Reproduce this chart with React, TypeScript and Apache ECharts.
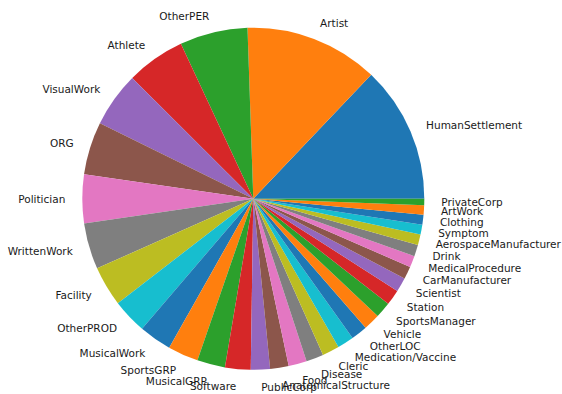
import React, { useEffect, useRef } from "react";
import * as echarts from "echarts";

const categories = [
  "HumanSettlement", "Artist", "OtherPER", "Athlete", "VisualWork", "ORG",
  "Politician", "WrittenWork", "Facility", "OtherPROD", "MusicalWork",
  "SportsGRP", "MusicalGRP", "Software", "PublicCorp", "AnatomicalStructure",
  "Food", "Disease", "Cleric", "Medication/Vaccine", "OtherLOC", "Vehicle",
  "SportsManager", "Station", "Scientist", "CarManufacturer",
  "MedicalProcedure", "Drink", "AerospaceManufacturer", "Symptom",
  "Clothing", "ArtWork", "PrivateCorp",
];

const values = [
  464, 455, 231, 200, 187, 180, 165, 157, 136, 118, 111, 104, 95, 87,
  65, 63, 62, 59, 58, 56, 56, 56, 54, 53, 48, 43, 39, 39, 36, 34, 33, 32, 22,
];

const palette = [
  "#1f77b4", "#ff7f0e", "#2ca02c", "#d62728", "#9467bd",
  "#8c564b", "#e377c2", "#7f7f7f", "#bcbd22", "#17becf",
];

export default function App() {
  const ref = useRef<HTMLDivElement>(null);
  useEffect(() => {
    if (!ref.current) return;
    const chart = echarts.init(ref.current, null, { renderer: "svg" });
    chart.setOption({
      animation: false,
      color: palette,
      series: [
        {
          type: "pie",
          center: [253.3, 198.75],
          radius: 171,
          startAngle: 0,
          clockwise: false,
          avoidLabelOverlap: false,
          data: categories.map((name, i) => ({ name, value: values[i] })),
          itemStyle: { borderWidth: 0 },
          label: {
            show: true,
            position: "outside",
            formatter: "{b}",
            fontFamily: "DejaVu Sans",
            fontSize: 10.5,
            color: "#1a1a1a",
            distanceToLabelLine: 0,
          },
          labelLayout: { hideOverlap: false },
          labelLine: { show: false, length: 17, length2: 0 },
          emphasis: { disabled: true },
        },
      ],
    });
    return () => chart.dispose();
  }, []);
  return (
    <div
      ref={ref}
      style={{ position: "fixed", left: 0, top: 0, width: 562, height: 394, background: "#fff" }}
    />
  );
}
